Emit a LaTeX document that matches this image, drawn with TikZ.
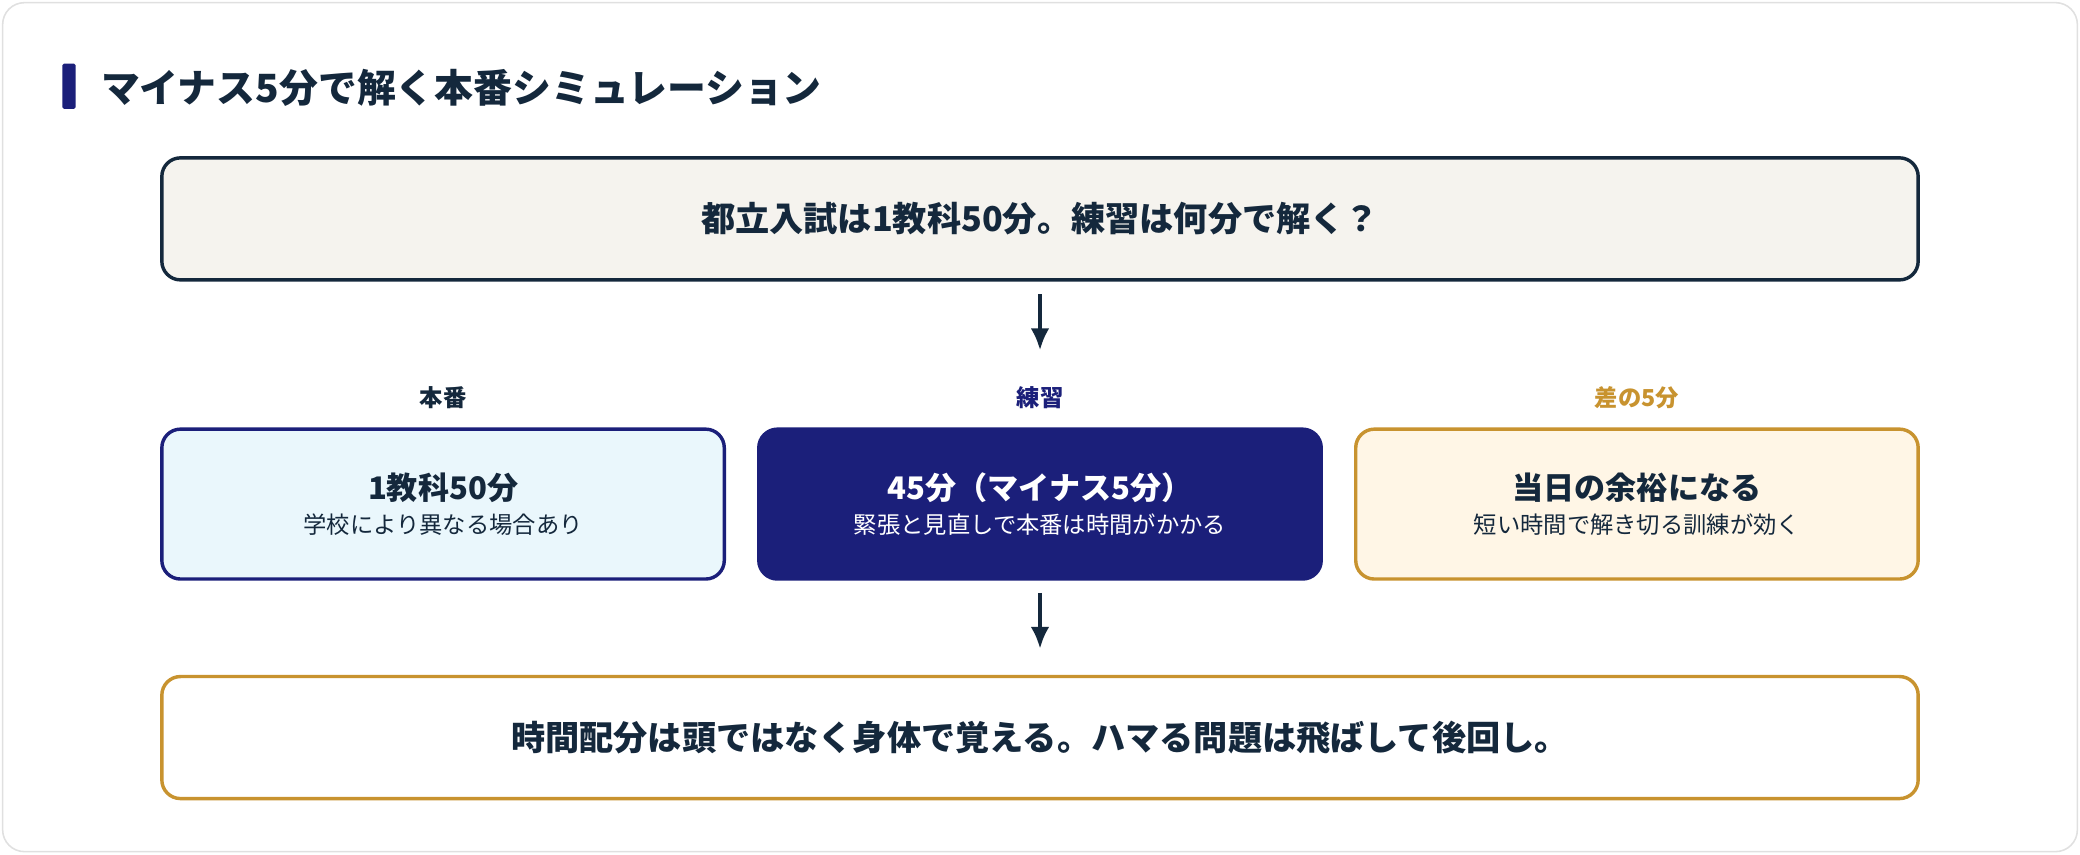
\documentclass[tikz,border=0pt]{standalone}
\usepackage{fontspec}
\setmainfont{Noto Sans CJK JP}
\usetikzlibrary{positioning}
\definecolor{navy}{HTML}{14283C}
\definecolor{indigo}{HTML}{1B1F7A}
\definecolor{gold}{HTML}{C8932F}
\definecolor{paper}{HTML}{F5F3EE}
\definecolor{sky}{HTML}{EAF7FC}
\definecolor{cream}{HTML}{FFF6E6}
\begin{document}
\begin{tikzpicture}[x=0.03cm,y=-0.03cm,
  box/.style={draw, line width=2.2pt, rounded corners=12pt, minimum width=1324*0.03cm, minimum height=92*0.03cm},
  card/.style={draw, line width=2.2pt, rounded corners=12pt, minimum width=424*0.03cm, minimum height=113*0.03cm, align=center},
  tag/.style={font=\bfseries\fontsize{15}{18}\selectfont},
  flow/.style={-{Latex[length=14pt,width=12pt]}, line width=2.4pt, navy}]
\usetikzlibrary{arrows.meta}
\draw[draw=black!12, fill=white, line width=1pt, rounded corners=14pt] (2,2) rectangle (1566,642);
\useasboundingbox (0,0) rectangle (1568,644);
\fill[indigo, rounded corners=1pt] (47,48) rectangle (57,82);
\node[anchor=west, text=navy, font=\bfseries\fontsize{25}{30}\selectfont] (title) at (72,66) {マイナス5分で解く本番シミュレーション};
% question
\node[box, draw=navy, fill=paper, text=navy, font=\bfseries\fontsize{22}{26}\selectfont] (ask) at (784,165) {都立入試は1教科50分。練習は何分で解く？};
% three cards
\node[card, draw=indigo, fill=sky, text=navy] (real) at (334,380) {{\bfseries\fontsize{20}{24}\selectfont 1教科50分}\\[6pt]{\fontsize{15}{18}\selectfont 学校により異なる場合あり}};
\node[card, draw=indigo, fill=indigo, text=white] (prac) at (784,380) {{\bfseries\fontsize{20}{24}\selectfont 45分（マイナス5分）}\\[6pt]{\fontsize{15}{18}\selectfont 緊張と見直しで本番は時間がかかる}};
\node[card, draw=gold, fill=cream, text=navy] (gap) at (1234,380) {{\bfseries\fontsize{20}{24}\selectfont 当日の余裕になる}\\[6pt]{\fontsize{15}{18}\selectfont 短い時間で解き切る訓練が効く}};
\node[tag, text=navy] (realtag) at (334,300) {本番};
\node[tag, text=indigo] (practag) at (784,300) {練習};
\node[tag, text=gold] (gaptag) at (1234,300) {差の5分};
% result
\node[box, draw=gold, fill=white, text=navy, font=\bfseries\fontsize{22}{26}\selectfont] (rule) at (784,556) {時間配分は頭ではなく身体で覚える。ハマる問題は飛ばして後回し。};
\coordinate (a1) at (784,222);
\coordinate (a2) at (784,264);
\coordinate (b1) at (784,447);
\coordinate (b2) at (784,489);
\draw[flow] (a1) -- (a2);
\draw[flow] (b1) -- (b2);
\end{tikzpicture}
\end{document}
